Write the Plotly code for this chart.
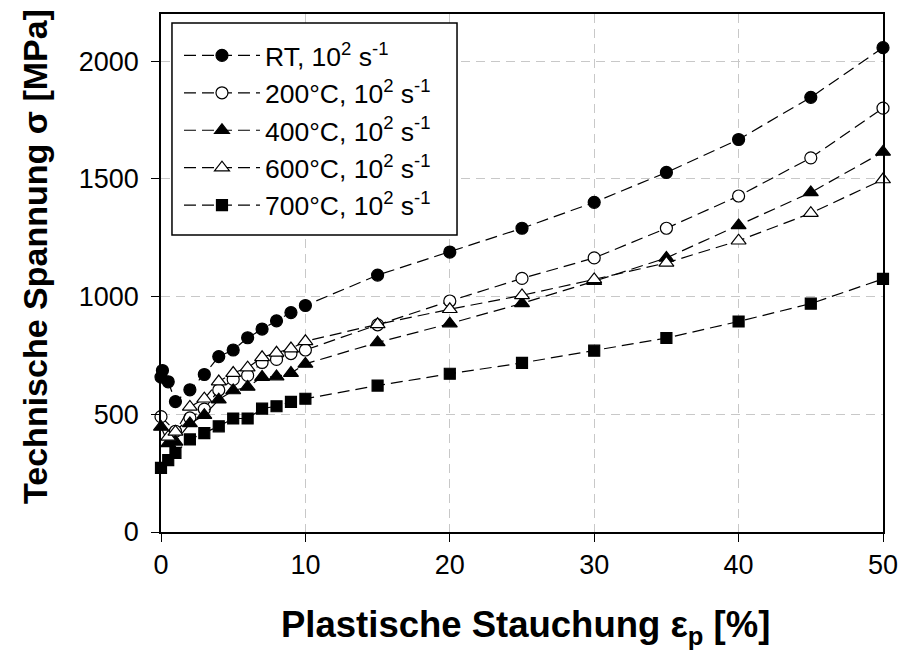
import plotly.graph_objects as go

# ---- data ----
x_rt = [0, 0.1, 0.5, 1, 2, 3, 4, 5, 6, 7, 8, 9, 10, 15, 20, 25, 30, 35, 40, 45, 50]
y_rt = [658, 686, 638, 554, 604, 669, 745, 773, 825, 862, 897, 932, 962, 1091, 1189, 1290, 1400, 1527, 1667, 1846, 2057]

x_200 = [0, 1, 2, 3, 4, 5, 6, 7, 8, 9, 10, 15, 20, 25, 30, 35, 40, 45, 50]
y_200 = [490, 428, 485, 522, 603, 648, 665, 720, 733, 758, 773, 880, 981, 1077, 1164, 1290, 1427, 1589, 1800]

x_400 = [0, 0.5, 1, 2, 3, 4, 5, 6, 7, 8, 9, 10, 15, 20, 25, 30, 35, 40, 45, 50]
y_400 = [446, 376, 383, 461, 496, 562, 601, 616, 658, 660, 675, 714, 805, 885, 971, 1065, 1164, 1302, 1442, 1614]

x_600 = [0.5, 1, 2, 3, 4, 5, 6, 7, 8, 9, 10, 15, 20, 25, 30, 35, 40, 45, 50]
y_600 = [404, 425, 531, 566, 639, 675, 698, 742, 761, 779, 810, 882, 946, 1005, 1073, 1143, 1237, 1354, 1497]

x_700 = [0, 0.5, 1, 2, 3, 4, 5, 6, 7, 8, 9, 10, 15, 20, 25, 30, 35, 40, 45, 50]
y_700 = [272, 305, 336, 393, 420, 449, 482, 482, 524, 534, 553, 566, 622, 672, 718, 770, 824, 894, 970, 1075]

names = ["RT, 10<sup>2</sup> s<sup>-1</sup>",
         "200°C, 10<sup>2</sup> s<sup>-1</sup>",
         "400°C, 10<sup>2</sup> s<sup>-1</sup>",
         "600°C, 10<sup>2</sup> s<sup>-1</sup>",
         "700°C, 10<sup>2</sup> s<sup>-1</sup>"]

x_ticks = [0, 10, 20, 30, 40, 50]
y_ticks = [0, 500, 1000, 1500, 2000]

x_title = "<b>Plastische Stauchung ε<sub>p</sub> [%]</b>"
y_title = "<b>Technische Spannung σ [MPa]</b>"

series = [
    (x_rt, y_rt, "circle", "black", 12),
    (x_200, y_200, "circle", "white", 12),
    (x_400, y_400, "triangle-up", "black", 13),
    (x_600, y_600, "triangle-up", "white", 13),
    (x_700, y_700, "square", "black", 11),
]

fig = go.Figure()
for (xs, ys, sym, fill, sz), nm in zip(series, names):
    fig.add_trace(go.Scatter(
        x=xs, y=ys, name=nm, mode="lines+markers", cliponaxis=False,
        line=dict(color="black", width=1.2, dash="12px,6px"),
        marker=dict(symbol=sym, color=fill, size=sz,
                    line=dict(color="black", width=1.2)),
    ))

font_family = "Liberation Sans, Arial, sans-serif"

# legend frame (drawn as a shape so its padding matches the reference)
fig.add_shape(type="rect", xref="paper", yref="paper",
              x0=0.0152, x1=0.41, y0=0.5735, y1=0.9827,
              fillcolor="white", line=dict(color="black", width=1.5),
              layer="above")

# axis titles as annotations for precise placement
fig.add_annotation(text=x_title, xref="paper", yref="paper",
                   x=0.5055, y=-0.1835, xanchor="center", yanchor="middle",
                   showarrow=False, font=dict(size=36.5, family=font_family, color="black"))
fig.add_annotation(text=y_title, xref="paper", yref="paper",
                   x=-0.1745, y=0.531, xanchor="center", yanchor="middle",
                   textangle=-90, showarrow=False,
                   font=dict(size=34, family=font_family, color="black"))

fig.update_layout(
    width=902, height=648,
    margin=dict(l=153, r=27, t=4, b=123.5),
    paper_bgcolor="white", plot_bgcolor="white",
    font=dict(family=font_family, size=27, color="black"),
    showlegend=True,
    legend=dict(
        x=0.0249, y=0.966, xanchor="left", yanchor="top",
        bgcolor="rgba(0,0,0,0)", borderwidth=0,
        font=dict(size=26.5, family=font_family, color="black"),
        itemwidth=76, tracegroupgap=0,
    ),
    xaxis=dict(
        range=[0, 50], tickvals=x_ticks, ticktext=[str(v) for v in x_ticks],
        showline=True, linecolor="black", linewidth=1.5, mirror=True,
        ticks="outside", ticklen=8, tickcolor="black", tickwidth=1,
        showgrid=True, gridcolor="#c8c8c8", griddash="9px,6px", gridwidth=1,
        zeroline=False,
        tickfont=dict(size=27, family=font_family),
        ticklabelstandoff=0,
    ),
    yaxis=dict(
        range=[0, 2200], tickvals=y_ticks, ticktext=[str(v) for v in y_ticks],
        showline=True, linecolor="black", linewidth=1.5, mirror=True,
        ticks="outside", ticklen=8, tickcolor="black", tickwidth=1,
        showgrid=True, gridcolor="#c8c8c8", griddash="9px,6px", gridwidth=1,
        zeroline=False,
        tickfont=dict(size=27, family=font_family),
        ticklabelstandoff=7,
    ),
)

fig.write_html("out.html")
